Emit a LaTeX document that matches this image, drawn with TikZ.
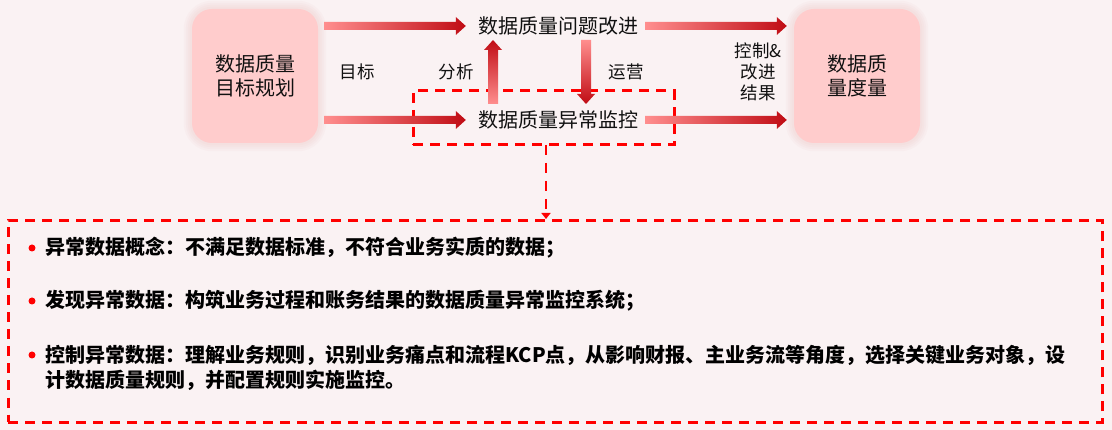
\documentclass[tikz,border=0pt]{standalone}
\usepackage{fontspec}
\setmainfont{Noto Sans CJK SC}
\usetikzlibrary{calc,arrows.meta}
\definecolor{bgc}{HTML}{FAF2F3}
\definecolor{boxc}{HTML}{FFCCCC}
\definecolor{gl}{HTML}{FF8E8E}
\definecolor{gd}{HTML}{C00C14}
\definecolor{dred}{HTML}{FF0000}
\definecolor{txt}{HTML}{111111}
\definecolor{glowc}{HTML}{E8B0B0}
\newcommand{\gradarrow}[4]{%
  \shade[#4] ($(#1)!#3!90:(#2)$) -- ($($(#2)!10pt!(#1)$)!#3!-90:(#1)$)
    -- ($($(#2)!10pt!(#1)$)!9pt!-90:(#1)$) -- (#2)
    -- ($($(#2)!10pt!(#1)$)!9pt!90:(#1)$)
    -- ($($(#2)!10pt!(#1)$)!#3!90:(#1)$) -- ($(#1)!#3!-90:(#2)$) -- cycle;}
\newcommand{\boxglow}[1]{%
  \foreach \g in {8,6,4,2}{%
    \fill[glowc, fill opacity=0.07, rounded corners=20pt+\g pt]
      ($(#1.south west)+(-\g,\g)$) rectangle ($(#1.north east)+(\g,-\g)$);}}
\tikzset{
  bigbox/.style={fill=boxc, rounded corners=20pt, minimum width=126pt, minimum height=134pt,
    align=center, font=\fontsize{20}{24}\selectfont, text=txt, inner sep=0pt},
  flowtext/.style={font=\fontsize{20}{24}\selectfont, text=txt, inner sep=0pt},
  lbl/.style={font=\fontsize{17.5}{21}\selectfont, text=txt, inner sep=0pt, align=center},
  dbox/.style={draw=dred, line width=3pt, dash pattern=on 10pt off 7pt, inner sep=0pt},
  bullettext/.style={font=\fontsize{20}{25}\selectfont\bfseries, text=black, inner sep=0pt, anchor=west, align=left},
  dot/.style={circle, fill=dred, minimum size=7pt, inner sep=0pt},
}
\begin{document}
\begin{tikzpicture}[x=1pt,y=-1pt]
\fill[bgc] (0,0) rectangle (1112,430);
\useasboundingbox (0,0) rectangle (1112,430);
% box glow placeholders
\path (255,76) coordinate (Lc) (857,76) coordinate (Rc);
\node[minimum width=126pt, minimum height=134pt, inner sep=0pt] (Lg) at (Lc) {};
\node[minimum width=126pt, minimum height=134pt, inner sep=0pt] (Rg) at (Rc) {};
\boxglow{Lg}
\boxglow{Rg}
% boxes
\node[bigbox] (L) at (Lc) {数据质量\\目标规划};
\node[bigbox] (R) at (Rc) {数据质\\量度量};
\node[flowtext] (T) at (558,26) {数据质量问题改进};
\node[flowtext] (B) at (558,120) {数据质量异常监控};
\node[dbox, minimum width=261pt, minimum height=54pt] (M) at (543.5,118) {};
% labels
\node[lbl] (l1) at (357,72) {目标};
\node[lbl] (l2) at (456,72) {分析};
\node[lbl] (l3) at (626,72) {运营};
\node[lbl] (l4) at (758,72) {控制\&\\改进\\结果};
% arrow coordinates
\coordinate (a1s) at ($(L.east|-T.west)+(6,0)$);
\coordinate (a1t) at ($(T.west)+(-12,0)$);
\coordinate (a2s) at ($(L.east|-B.west)+(6,0)$);
\coordinate (a2t) at ($(B.west)+(-12,0)$);
\coordinate (a3s) at ($(T.east)+(7,0)$);
\coordinate (a3t) at ($(R.west|-T.east)+(-7,0)$);
\coordinate (a4s) at ($(B.east)+(7,0)$);
\coordinate (a4t) at ($(R.west|-B.east)+(-7,0)$);
\coordinate (ups) at (493,104);
\coordinate (upt) at (493,40);
\coordinate (dns) at (586,40);
\coordinate (dnt) at (586,104);
\gradarrow{a1s}{a1t}{4pt}{left color=gl, right color=gd}
\gradarrow{a2s}{a2t}{4pt}{left color=gl, right color=gd}
\gradarrow{a3s}{a3t}{4pt}{left color=gl, right color=gd}
\gradarrow{a4s}{a4t}{4pt}{left color=gl, right color=gd}
\gradarrow{ups}{upt}{5pt}{bottom color=gl, top color=gd}
\gradarrow{dns}{dnt}{5pt}{top color=gl, bottom color=gd}
% big dashed box
\node[dbox, minimum width=1094pt, minimum height=202pt] (Big) at (555,321.5) {};
\coordinate (cs) at (546,145);
\draw[dred, line width=2.6pt, dash pattern=on 10pt off 8pt, -{Triangle[width=9pt,length=6pt]}] (cs) -- (cs|-Big.north);
% bullets
\node[dot] (d1) at (32,248) {};
\node[dot] (d2) at (32,301) {};
\node[dot] (d3) at (32,355) {};
\node[bullettext] (b1) at (45,248) {异常数据概念：不满足数据标准，不符合业务实质的数据；};
\node[bullettext] (b2) at (45,301) {发现异常数据：构筑业务过程和账务结果的数据质量异常监控系统；};
\node[bullettext] (b3) at (45,367.5) {控制异常数据：理解业务规则，识别业务痛点和流程KCP点，从影响财报、主业务流等角度，选择关键业务对象，设\\计数据质量规则，并配置规则实施监控。};
\end{tikzpicture}
\end{document}
